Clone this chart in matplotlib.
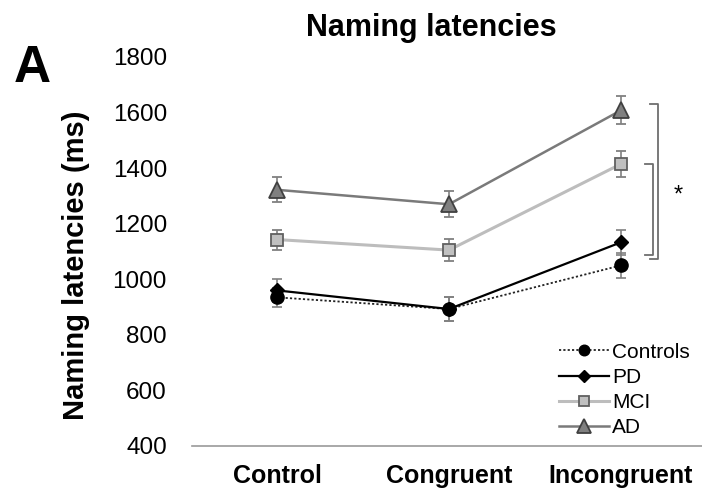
import matplotlib
matplotlib.use('Agg')
import matplotlib.pyplot as plt
from matplotlib.lines import Line2D

plt.rcParams['font.family'] = ['Liberation Sans', 'DejaVu Sans']

conditions = ['Control', 'Congruent', 'Incongruent']
groups = ['Controls', 'PD', 'MCI', 'AD']

controls = [935, 893, 1050]
controls_err = [35, 43, 45]
pd_vals = [960, 893, 1133]
pd_err = [40, 43, 45]
mci = [1143, 1105, 1415]
mci_err = [36, 40, 48]
ad = [1322, 1270, 1608]
ad_err = [45, 46, 50]

# significance brackets (y range in ms)
outer_bracket = [1073, 1630]
inner_bracket = [1087, 1414]

fig = plt.figure(figsize=(7.02, 4.9), dpi=100)
ax = fig.add_axes([0.2735, 0.0898, 0.7265, 0.7939])

x = list(range(len(conditions)))

styles = [
    (controls, controls_err, dict(color='#222222', ls=(0, (1.2, 1.2)), lw=1.3, marker='o', ms=9.5,
                                  mfc='black', mec='black')),
    (pd_vals, pd_err, dict(color='black', ls='-', lw=1.6, marker='D', ms=7.5,
                          mfc='black', mec='black')),
    (mci, mci_err, dict(color='#bdbdbd', ls='-', lw=2.2, marker='s', ms=9,
                        mfc='#c0c0c0', mec='#606060', mew=1.3)),
    (ad, ad_err, dict(color='#7a7a7a', ls='-', lw=1.8, marker='^', ms=12,
                      mfc='#808080', mec='#404040', mew=1.3)),
]

handles = []
for (vals, err, st), name in zip(styles, groups):
    ax.errorbar(x, vals, yerr=err, ecolor='#808080', elinewidth=1.2, capsize=3.5,
                capthick=1.2, zorder=3, **st)
    leg_st = dict(st)
    leg_st['ms'] = st['ms'] * 0.8
    handles.append(Line2D([], [], label=name, **leg_st))

ax.set_xlim(-0.494, 2.471)
ax.set_ylim(400, 1800)
ax.set_yticks(range(400, 1801, 200))
ax.set_xticks(x)
ax.set_xticklabels(conditions, fontsize=18, fontweight='bold')
ax.tick_params(axis='y', length=0, labelsize=17.5, pad=18)
ax.tick_params(axis='x', length=0, pad=13)
for s in ['top', 'right', 'left']:
    ax.spines[s].set_visible(False)
ax.spines['bottom'].set_color('#9a9a9a')
ax.spines['bottom'].set_linewidth(1.2)

ax.set_ylabel('Naming latencies (ms)', fontsize=21, fontweight='bold')
ax.yaxis.set_label_coords(-0.2, 0.465)

# brackets
for (lo, hi), bx in [(outer_bracket, 2.215), (inner_bracket, 2.186)]:
    ax.plot([bx - 0.045, bx, bx, bx - 0.045], [hi, hi, lo, lo], color='#6e6e6e',
            lw=1.3, clip_on=False)
ax.text(2.33, 1300, '*', fontsize=17, ha='center', va='center')

ax.legend(handles=handles, loc='lower right', bbox_to_anchor=(1.0, -0.01), frameon=False,
          fontsize=15, handlelength=2.4, handletextpad=0.15, labelspacing=0.3, borderaxespad=0.2)

fig.text(0.614, 0.942, 'Naming latencies', fontsize=22, fontweight='bold', ha='center', va='center')
fig.text(0.0456, 0.861, 'A', fontsize=37, fontweight='bold', ha='center', va='center')

fig.savefig('out.png', dpi=100)
